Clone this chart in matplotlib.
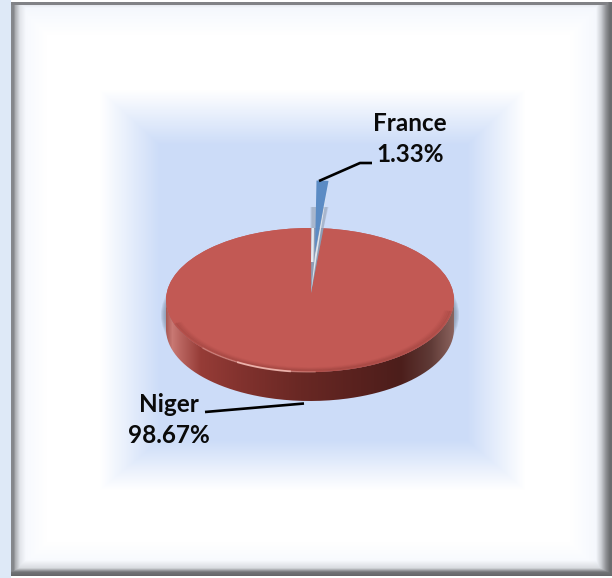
import numpy as np
import matplotlib
matplotlib.use('Agg')
import matplotlib.pyplot as plt
from matplotlib.patches import Ellipse, PathPatch, Polygon
from matplotlib.path import Path

# chart values
countries = ['France', 'Niger']
shares = [1.33, 98.67]
colors = ['#5b8bc4', '#c25954']

W, H = 612, 578
plt.rcParams['font.family'] = ['Lato', 'DejaVu Sans']

fig = plt.figure(figsize=(W / 100, H / 100), dpi=100)


def pixel_axes(zorder):
    ax = fig.add_axes([0, 0, 1, 1], zorder=zorder)
    ax.set_xlim(0, W)
    ax.set_ylim(H, 0)
    ax.axis('off')
    ax.patch.set_alpha(0)
    return ax


def make_background():
    xx, yy = np.meshgrid(np.arange(W) + 0.5, np.arange(H) + 0.5)
    white = np.array([255, 255, 255.0])
    blue = np.array([204, 220, 248.0])

    # blue pillow in the middle
    t = np.minimum.reduce([(xx - 100) / 60, (525 - xx) / 58, (yy - 90) / 55, (490 - yy) / 50])
    t = np.clip(t, 0, 1)[..., None]
    img = white * (1 - t) + blue * t

    # faint blue glow just inside the frame
    d = np.minimum.reduce([xx - 17, 600 - xx, yy - 5, 572 - yy])
    g = np.clip(1 - d / 30, 0, 1)[..., None] * 0.22
    img = img * (1 - g) + blue * g

    # bevel on the inside of the frame
    left = np.interp(xx, [11, 14, 15, 20, 26], [140, 140, 175, 235, 255])
    top = np.interp(yy, [2, 4.5, 5, 8], [135, 135, 240, 255])
    right = np.interp(xx, [596, 601, 606, 610], [255, 215, 150, 112])
    bottom = np.interp(yy, [560, 568, 572, 576], [255, 225, 120, 105])
    shade = np.minimum.reduce([left, top, right, bottom])[..., None]
    img = img * shade / 255

    # outside the frame
    img[:, :11] = np.array([222, 233, 247])
    img[:2, 11:] = 255
    img[576:, 11:] = 255
    return img.astype(np.uint8)


bg = pixel_axes(0)
bg.imshow(make_background(), extent=(0, W, H, 0), aspect='auto', zorder=0)
bg.set_xlim(0, W)
bg.set_ylim(H, 0)

cx, cy, rx, ry, depth = 310, 300, 144, 72, 29

# soft shadow below the disc
for k in range(7):
    bg.add_patch(Ellipse((cx, cy + 15), 2 * (rx + 5 - k), 2 * (ry + 3 - k * 0.5),
                         fc='#6f7c91', ec='none', alpha=0.16, zorder=1))

# side wall of the disc
th = np.linspace(np.pi, 0, 200)
top_edge = np.column_stack([cx + rx * np.cos(th), cy + ry * np.sin(th)])
low_edge = np.column_stack([cx + rx * np.cos(th[::-1]), cy + depth + ry * np.sin(th[::-1])])
wall = Path(np.vstack([top_edge, low_edge, top_edge[:1]]))
stops_x = [166, 172, 180, 200, 240, 300, 360, 400, 430, 454]
stops_r = [170, 200, 185, 150, 130, 105, 88, 76, 95, 140]
stops_g = [90, 120, 100, 60, 50, 40, 33, 30, 58, 100]
stops_b = [85, 115, 95, 55, 46, 36, 30, 27, 54, 95]
gx = np.arange(cx - rx, cx + rx)
grad = np.column_stack([np.interp(gx, stops_x, stops_r),
                        np.interp(gx, stops_x, stops_g),
                        np.interp(gx, stops_x, stops_b)])[None, ...].astype(np.uint8)
im = bg.imshow(grad, extent=(cx - rx, cx + rx, cy + ry + depth, cy), aspect='auto', zorder=2)
bg.set_xlim(0, W)
bg.set_ylim(H, 0)
clip = PathPatch(wall, transform=bg.transData, fc='none', ec='none')
bg.add_patch(clip)
im.set_clip_path(clip)

# top face: the pie squashed into the ellipse
pie_ax = fig.add_axes([(cx - rx) / W, 1 - (cy + ry) / H, 2 * rx / W, 2 * ry / H], zorder=1)
center_angle = 87
start = center_angle - shares[0] / sum(shares) * 180
wedges, _ = pie_ax.pie(shares, colors=colors, startangle=start, explode=[0.66, 0],
                       radius=1, wedgeprops={'linewidth': 0})
pie_ax.set_aspect('auto')
pie_ax.patch.set_alpha(0)
for w in wedges:
    w.set_clip_on(False)
wedges[0].set_zorder(6)
wedges[1].set_zorder(2)


def px(x, y):
    return ((x - cx) / rx, (cy - y) / ry)


def on_rim(center, angle):
    return (center[0] + np.cos(np.radians(angle)), center[1] + np.sin(np.radians(angle)))


# fill the notch under the slice, the real apex sits a bit above the ellipse centre
fr = wedges[0]
apex = px(311, 293)
pie_ax.add_patch(Ellipse((0, 0), 2, 2, fc=colors[1], ec='none', zorder=1, clip_on=False))
tip_r = on_rim(fr.center, fr.theta1)

# raised slice: shadow, then its light side, then the blue face
rim_l = on_rim((0, 0), fr.theta2)
rim_r = on_rim((0, 0), fr.theta1)
for off, a in [(2.5, 0.2), (1.5, 0.3)]:
    d = off / rx
    pie_ax.add_patch(Polygon([px(313 - off, 207), (px(313 - off, 207)[0], rim_l[1]), apex, rim_r,
                              (px(326, 207)[0] + d, px(326, 207)[1])],
                             fc='#7c8798', ec='none', alpha=a, zorder=3, clip_on=False))
pie_ax.add_patch(Polygon([rim_l, apex, rim_r], fc='#8e9db5', ec='none', zorder=4, clip_on=False))
pie_ax.add_patch(Polygon([rim_l, px(311, 262), px(313.5, 262), px(314, 228)],
                         fc='#e6eaf0', ec='none', zorder=4, clip_on=False))
pie_ax.add_patch(Polygon([tip_r, apex, px(315, 255)], fc='#dfe4ea', ec='none', zorder=5, clip_on=False))

# bevel along the front of the top face: inner dark band, thin highlight on the left
for k, a in enumerate([0.16, 0.12, 0.08, 0.05]):
    s = 1 - (k + 1) * 0.012
    ang = np.radians(np.linspace(200, 350, 150))
    pie_ax.plot(s * np.cos(ang), s * np.sin(ang), color='#7a2e2a', lw=2.0, alpha=a, zorder=7, clip_on=False)
ang = np.radians(np.linspace(222, 240, 20))
pie_ax.plot(np.cos(ang), np.sin(ang), color='#eeb0a9', lw=1.0, alpha=0.45, zorder=8, clip_on=False)
ang = np.radians(np.linspace(240, 262, 20))
pie_ax.plot(np.cos(ang), np.sin(ang), color='#f3bcb5', lw=1.3, alpha=0.9, zorder=8, clip_on=False)
ang = np.radians(np.linspace(262, 272, 10))
pie_ax.plot(np.cos(ang), np.sin(ang), color='#eeb0a9', lw=1.0, alpha=0.4, zorder=8, clip_on=False)
pie_ax.set_xlim(-1, 1)
pie_ax.set_ylim(-1, 1)

# labels and leader lines
top = pixel_axes(2)
top.plot([319, 360, 372], [181, 163, 163], color='black', lw=1.9, solid_capstyle='butt')
top.plot([304, 205], [403.5, 412], color='black', lw=1.9, solid_capstyle='butt')
label_font = dict(fontsize=17.5, fontweight='bold', color='#0a0a0a', ha='center', va='center', linespacing=1.42)
top.text(410, 139, f'{countries[0]}\n{shares[0]:.2f}%', **label_font)
top.text(168.5, 420, f'{countries[1]}\n{shares[1]:.2f}%', **label_font)

fig.savefig('out.png', dpi=100)
